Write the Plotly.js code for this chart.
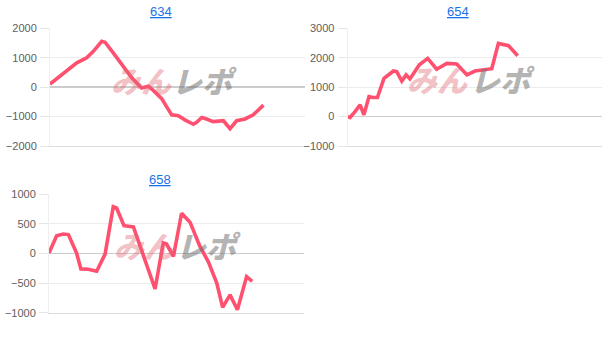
<!DOCTYPE html>
<html>
<head>
<meta charset="utf-8">
<script src="https://cdn.plot.ly/plotly-3.0.1.min.js"></script>
<style>html,body{margin:0;padding:0;background:#fff;}#chart{width:611px;height:338px;}</style>
</head>
<body>
<div id="chart"></div>
<script>
// Chart titles (machine numbers)
const titles = ["634", "654", "658"];

// Machine 634
const x634 = [0, 2.6, 6.5, 10.5, 14.4, 17, 20.3, 21.6, 24.8, 28.8, 32, 35.9, 38.6, 40.5, 43.8, 47.7, 50.3, 52.9, 56.2, 57.5, 59.5, 61.4, 64, 68, 70.6, 73.2, 76.5, 79.7, 83.7];
const y634 = [110, 280, 560, 830, 1000, 1220, 1560, 1530, 1170, 720, 330, -30, 30, -110, -390, -940, -970, -1110, -1260, -1190, -1030, -1080, -1170, -1140, -1410, -1140, -1080, -940, -610];

// Machine 654
const x654 = [0, 0.9, 2.9, 4.9, 6.4, 8.4, 10.1, 11.7, 14.3, 18, 19.3, 21.3, 23, 24.5, 28.2, 31.5, 35, 39, 42.9, 46.9, 50.1, 52.8, 56.7, 59.3, 63.3, 66.9];
const y654 = [0, -30, 170, 400, 60, 680, 650, 650, 1300, 1550, 1530, 1210, 1420, 1280, 1760, 1980, 1610, 1810, 1790, 1420, 1550, 1590, 1630, 2490, 2410, 2070];

// Machine 658
const x658 = [0, 3, 5.6, 7.6, 10.8, 12.5, 15.4, 18.7, 22, 25.2, 26.5, 29.4, 33.1, 36.3, 41.6, 44.8, 46.1, 48.8, 52, 55.3, 59.2, 62.5, 65.8, 68.1, 71, 73.9, 77.5, 79.7];
const y658 = [10, 300, 330, 320, 10, -260, -265, -300, -10, 790, 770, 470, 450, 60, -600, 180, 160, -50, 680, 530, 120, -140, -500, -910, -700, -950, -390, -470];

const lineStyle = {color: '#ff5070', width: 3.6, shape: 'linear'};

const traces = [
  {x: x634, y: y634, xaxis: 'x', yaxis: 'y', mode: 'lines', line: lineStyle, hoverinfo: 'skip'},
  {x: x654, y: y654, xaxis: 'x2', yaxis: 'y2', mode: 'lines', line: lineStyle, hoverinfo: 'skip'},
  {x: x658, y: y658, xaxis: 'x3', yaxis: 'y3', mode: 'lines', line: lineStyle, hoverinfo: 'skip'}
];

function xax(domain, anchor) {
  return {domain: domain, anchor: anchor, range: [0, 100], showticklabels: false, showgrid: false,
          zeroline: false, showline: true, linecolor: '#dddddd', linewidth: 1, ticks: '', fixedrange: true};
}
function yax(domain, anchor, range, dtick) {
  return {domain: domain, anchor: anchor, range: range, dtick: dtick, tick0: 0,
          showgrid: true, gridcolor: '#ececec', gridwidth: 1,
          zeroline: true, zerolinecolor: '#cccccc', zerolinewidth: 1.5,
          showline: true, linecolor: '#eeeeee', linewidth: 1,
          ticks: 'outside', ticklen: 9, tickcolor: '#e6e6e6', ticklabelstandoff: 1,
          tickfont: {family: 'Liberation Sans, Arial, sans-serif', size: 11, color: '#606060'},
          fixedrange: true};
}

const topY = [0.568, 0.916];
const botY = [0.075, 0.425];

const titleFont = {family: 'Liberation Sans, Arial, sans-serif', size: 13, color: '#1a73e8'};
const wmPink = {family: 'Noto Sans CJK JP, sans-serif', size: 30, color: 'rgba(225,105,115,0.42)', weight: 900, style: 'italic'};
const wmGray = {family: 'Noto Sans CJK JP, sans-serif', size: 30, color: 'rgba(115,115,115,0.55)', weight: 900, style: 'italic'};

const ann = [];
const titlePos = [[161, 12], [458, 12], [160, 179]];
titles.forEach((t, i) => {
  ann.push({text: '<u>' + t + '</u>', xref: 'paper', yref: 'paper', x: titlePos[i][0] / 611, y: 1 - titlePos[i][1] / 338,
            showarrow: false, font: titleFont, xanchor: 'center', yanchor: 'middle'});
});
const wmPos = [[141, 80], [438, 79], [144, 245]];
wmPos.forEach(p => {
  ann.push({text: 'みん', xref: 'paper', yref: 'paper', x: p[0] / 611, y: 1 - p[1] / 338, showarrow: false,
            font: wmPink, xanchor: 'center', yanchor: 'middle'});
  ann.push({text: 'レポ', xref: 'paper', yref: 'paper', x: (p[0] + 64) / 611, y: 1 - p[1] / 338, showarrow: false,
            font: wmGray, xanchor: 'center', yanchor: 'middle'});
});

const layout = {
  width: 611, height: 338,
  margin: {l: 0, r: 0, t: 0, b: 0},
  paper_bgcolor: '#ffffff', plot_bgcolor: '#ffffff',
  showlegend: false,
  xaxis: xax([0.0818, 0.4992], 'y'),
  yaxis: yax(topY, 'x', [-2000, 2000], 1000),
  xaxis2: xax([0.569, 0.985], 'y2'),
  yaxis2: yax(topY, 'x2', [-1000, 3000], 1000),
  xaxis3: xax([0.0802, 0.4975], 'y3'),
  yaxis3: yax(botY, 'x3', [-1000, 1000], 500),
  annotations: ann
};

Plotly.newPlot('chart', traces, layout, {displayModeBar: false, staticPlot: true});
</script>
</body>
</html>
